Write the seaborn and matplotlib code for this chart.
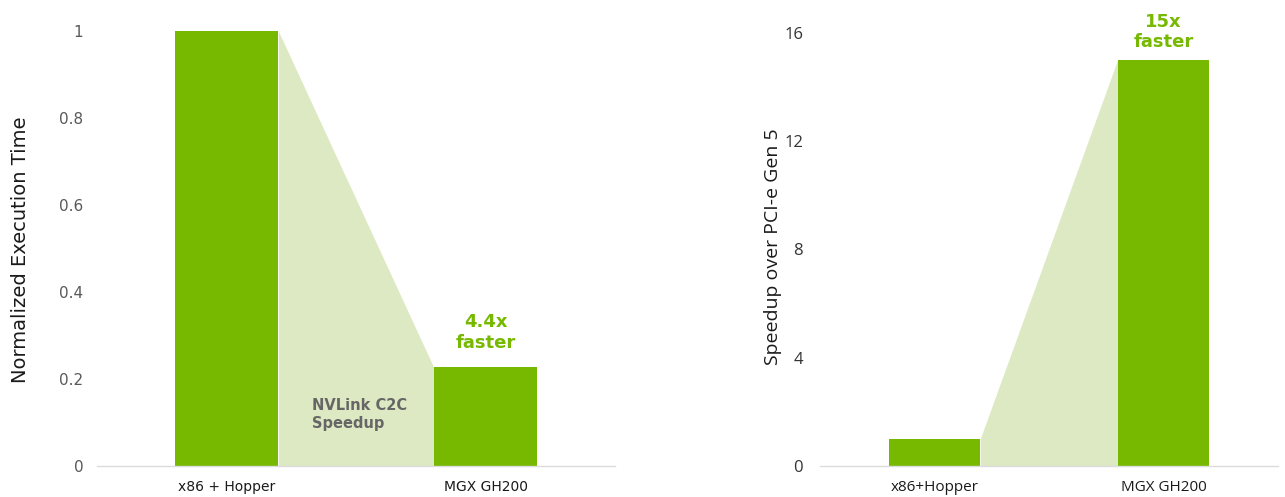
import pandas as pd
import numpy as np
import matplotlib
matplotlib.use("Agg")
import matplotlib.pyplot as plt
import seaborn as sns

# === Data ===
left_systems = ["x86 + Hopper", "MGX GH200"]
left_exec_time = [1.0, 0.227]
left_ticks = [0, 0.2, 0.4, 0.6, 0.8, 1.0]
left_ticklabels = ["0", "0.2", "0.4", "0.6", "0.8", "1"]

right_systems = ["x86+Hopper", "MGX GH200"]
right_speedup = [1.0, 15.0]
right_ticks = [0, 4, 8, 12, 16]

GREEN = "#76b900"
SHADE = "#dde9c2"
BAR_W = 0.4

sns.set_theme(style="white")
plt.rcParams["font.family"] = ["DejaVu Sans"]

fig = plt.figure(figsize=(12.85, 4.97), dpi=100)
ax1 = fig.add_axes([0.0755, 0.0624, 0.4031, 0.9376])
ax2 = fig.add_axes([0.638, 0.0624, 0.3566, 0.9376])


def draw_panel(ax, systems, values, ylim, ticks, ticklabels, ylabel, font,
               tick_col, ytick_size, xtick_size, ypad, label_xy):
    df = pd.DataFrame({"System": systems, "Value": values})
    # shaded wedge joining the two bar tops
    ax.fill_between([BAR_W / 2, 1 - BAR_W / 2, 1.0],
                    [values[0], values[1], values[1]],
                    color=SHADE, lw=0, zorder=0)
    sns.barplot(data=df, x="System", y="Value", color=GREEN, saturation=1,
                width=BAR_W, ax=ax, zorder=2, edgecolor="none")
    ax.set_xlim(-0.5, 1.5)
    ax.set_ylim(*ylim)
    ax.set_yticks(ticks)
    ax.set_yticklabels(ticklabels, fontsize=ytick_size, color=tick_col, family=font)
    ax.set_xticks([0, 1])
    ax.set_xticklabels(systems, fontsize=xtick_size, color="#1a1a1a", family=font)
    ax.tick_params(axis="x", length=0, pad=10)
    ax.tick_params(axis="y", length=0, pad=ypad)
    ax.set_xlabel("")
    ax.set_ylabel(ylabel, fontsize=14, color="#1a1a1a", family=font)
    ax.yaxis.set_label_coords(*label_xy)
    for s in ["top", "right", "left"]:
        ax.spines[s].set_visible(False)
    ax.spines["bottom"].set_color("#dcdcdc")
    ax.spines["bottom"].set_linewidth(1)
    ax.set_facecolor("none")


draw_panel(ax1, left_systems, left_exec_time, (0, 1.071), left_ticks,
           left_ticklabels, "Normalized Execution Time", "DejaVu Sans", "#595959",
           11, 10, 10, (-0.129, 0.463))
draw_panel(ax2, right_systems, right_speedup, (0, 17.2), right_ticks,
           [str(t) for t in right_ticks], "Speedup over PCI-e Gen 5", "Open Sans",
           "#333333", 12, 11, 12, (-0.083, 0.47))

# annotations
ax1.text(1, left_exec_time[1] + 0.035, "4.4x\nfaster", ha="center", va="bottom",
         fontsize=13, fontweight="bold", color=GREEN, linespacing=1.2)
ax1.text(0.33, 0.08, "NVLink C2C\nSpeedup", ha="left", va="bottom",
         fontsize=10.5, fontweight="bold", color="#666666", linespacing=1.3)
ax2.text(1, right_speedup[1] + 0.3, "15x\nfaster", ha="center", va="bottom",
         fontsize=13, fontweight="bold", color=GREEN, linespacing=1.2,
         family="DejaVu Sans")

fig.savefig("out.png", dpi=100)
